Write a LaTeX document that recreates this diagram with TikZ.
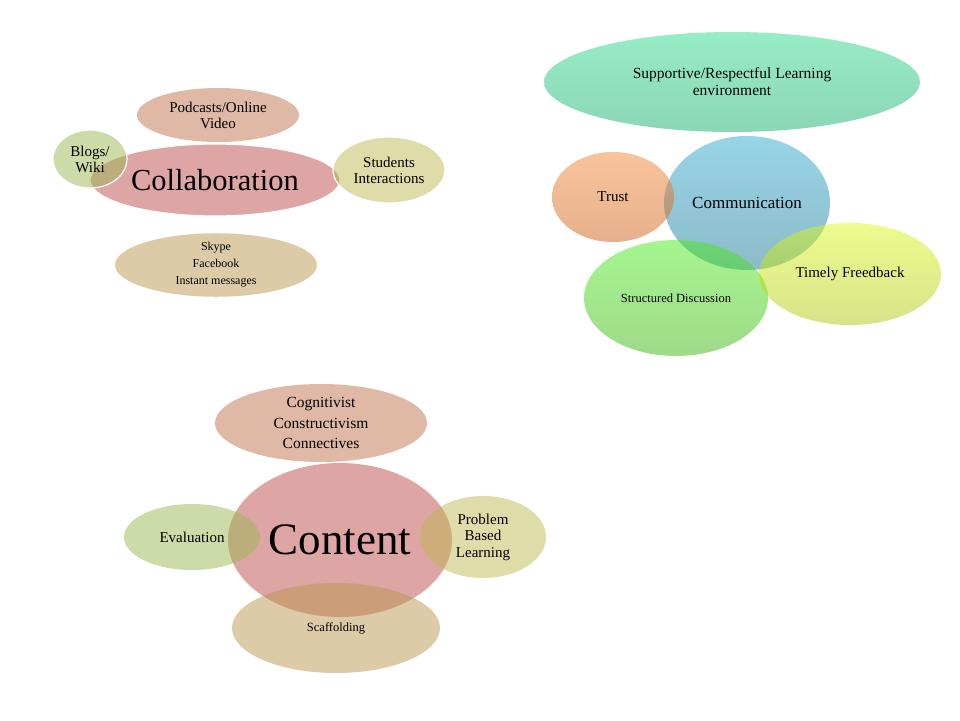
\documentclass[tikz,border=0pt]{standalone}
\usepackage{fontspec}
\setmainfont{Liberation Serif}
\usetikzlibrary{shapes.geometric}

\definecolor{pinkc}{RGB}{189,75,75}
\definecolor{tanc}{RGB}{191,115,75}
\definecolor{sandc}{RGB}{185,151,77}
\definecolor{greenc}{RGB}{155,183,81}
\definecolor{yellowc}{RGB}{189,185,81}
\definecolor{mintT}{RGB}{45,219,141}
\definecolor{mintB}{RGB}{25,173,107}
\definecolor{orangeT}{RGB}{243,137,55}
\definecolor{orangeB}{RGB}{205,97,25}
\definecolor{blueT}{RGB}{45,171,209}
\definecolor{blueB}{RGB}{29,119,145}
\definecolor{limeT}{RGB}{75,235,31}
\definecolor{limeB}{RGB}{65,181,21}
\definecolor{lemonT}{RGB}{217,249,25}
\definecolor{lemonB}{RGB}{179,197,21}

\begin{document}
\begin{tikzpicture}[x=1pt,y=-1pt,
  bubble/.style={ellipse,inner sep=0pt,align=center,fill opacity=0.5,text opacity=1,
    font=\fontsize{15}{16}\selectfont},
  rim/.style={draw=white,line width=1.2pt,draw opacity=1}]
\useasboundingbox (0,0) rectangle (960,720);

% collaboration
\node[bubble,fill=tanc,minimum width=162,minimum height=54] (podcasts) at (218,115) {Podcasts/Online\\Video};
\node[bubble,fill=sandc,minimum width=202,minimum height=56,font=\fontsize{12}{17}\selectfont] (skype) at (216,265) {Skype\\Facebook\\Instant messages};
\node[bubble,rim,fill=pinkc,minimum width=250,minimum height=72,font=\fontsize{30.5}{32}\selectfont] (collab) at (215,180) {Collaboration};
\node[bubble,rim,fill=greenc,minimum width=74,minimum height=58] (blogs) at (90,159) {Blogs/\\Wiki};
\node[bubble,rim,fill=yellowc,minimum width=112,minimum height=66] (students) at (389,170) {Students\\Interactions};

% communication
\node[bubble,top color=mintT,bottom color=mintB,minimum width=376,minimum height=100,
  font=\fontsize{15.5}{17}\selectfont] (support) at (732,82) {Supportive/Respectful Learning\\environment};
\node[bubble,top color=blueT,bottom color=blueB,minimum width=166,minimum height=134,
  font=\fontsize{17}{18}\selectfont] (comm) at (747,203) {Communication};
\node[bubble,top color=orangeT,bottom color=orangeB,minimum width=122,minimum height=90] (trust) at (613,197) {Trust};
\node[bubble,top color=limeT,bottom color=limeB,minimum width=184,minimum height=116,
  font=\fontsize{12.5}{14}\selectfont] (discuss) at (676,298) {Structured Discussion};
\node[bubble,top color=lemonT,bottom color=lemonB,minimum width=182,minimum height=102] (feedback) at (850,274) {Timely Freedback};

% content
\node[bubble,fill=tanc,minimum width=212,minimum height=78,font=\fontsize{15.5}{20.5}\selectfont] (theory) at (321,423) {Cognitivist\\Constructivism\\Connectives};
\node[bubble,fill=pinkc,minimum width=224,minimum height=154,font=\fontsize{45}{46}\selectfont] (content) at (340,540) {Content};
\node[bubble,fill=greenc,minimum width=136,minimum height=66] (eval) at (192,537) {Evaluation};
\node[bubble,fill=yellowc,minimum width=126,minimum height=82,font=\fontsize{15}{16.5}\selectfont] (pbl) at (483,537) {Problem\\Based\\Learning};
\node[bubble,fill=sandc,minimum width=208,minimum height=90,font=\fontsize{12.5}{14}\selectfont] (scaffold) at (336,628) {Scaffolding};
\end{tikzpicture}
\end{document}
